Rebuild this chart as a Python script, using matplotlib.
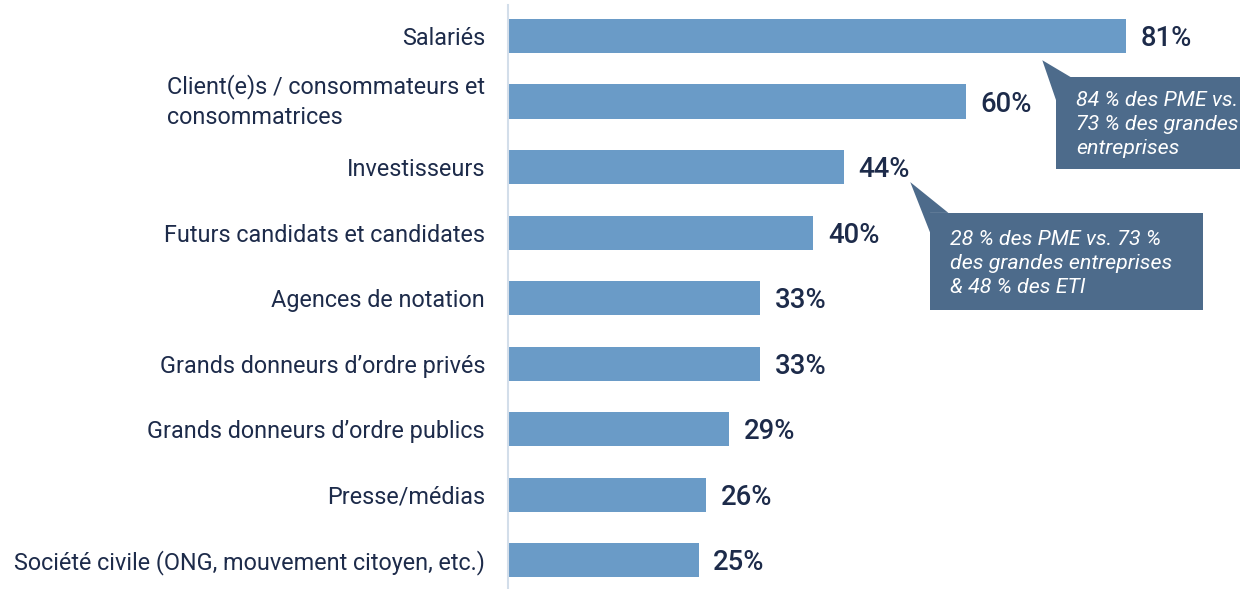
import matplotlib
matplotlib.use("Agg")
import matplotlib.pyplot as plt
from matplotlib.patches import Polygon, Rectangle

categories = [
    "Salariés",
    "Client(e)s / consommateurs et\nconsommatrices",
    "Investisseurs",
    "Futurs candidats et candidates",
    "Agences de notation",
    "Grands donneurs d\u2019ordre privés",
    "Grands donneurs d\u2019ordre publics",
    "Presse/médias",
    "Société civile (ONG, mouvement citoyen, etc.)",
]
values = [81, 60, 44, 40, 33, 33, 29, 26, 25]
value_labels = [f"{v}%" for v in values]

callout1_text = "84 % des PME vs.\n73 % des grandes\nentreprises"
callout2_text = "28 % des PME vs. 73 %\ndes grandes entreprises\n& 48 % des ETI"

BAR = "#6a9bc7"
TXT = "#1d2b4a"
BOX = "#4d6b8b"
AXL = "#d3deea"

plt.rcParams['font.family'] = ['Roboto', 'DejaVu Sans']

fig = plt.figure(figsize=(12.4, 5.89), dpi=100)
ax = fig.add_axes([508/1240, 0, 1 - 508/1240, 1 - 5/589])

ypos = list(range(len(categories)))
ax.barh(ypos, values, height=0.52, color=BAR, zorder=2)
ax.set_ylim(8.44, -0.473)
ax.set_xlim(0, 95.9)

for y, v, lab in zip(ypos, values, value_labels):
    ax.text(v + 1.9, y + 0.04, lab, va='center', ha='left', fontsize=19.8,
            fontweight='medium', color=TXT)

ax.set_yticks(ypos)
ticklabels = ax.set_yticklabels(categories, fontsize=16.8, color=TXT,
                                multialignment='left', linespacing=1.35)
for t in ticklabels:
    if "\n" in t.get_text():
        t.set_verticalalignment('center')
ax.tick_params(axis='y', length=0, pad=16.5)
ax.set_xticks([])
for s in ['top', 'right', 'bottom']:
    ax.spines[s].set_visible(False)
ax.spines['left'].set_color(AXL)
ax.spines['left'].set_linewidth(1.5)

# Callout 1
ax.add_patch(Rectangle((71.8, 0.626), 30, 2.03 - 0.626, facecolor=BOX,
                       edgecolor='none', zorder=3, clip_on=True))
ax.add_patch(Polygon([(70.0, 0.37), (73.7, 0.626), (71.8, 0.626), (71.8, 0.98)],
                     closed=True, facecolor=BOX, edgecolor='none', zorder=3))
ax.text(74.4, 1.35, callout1_text, ha='left', va='center', fontsize=15.4,
        fontstyle='italic', color='white', linespacing=1.35, zorder=4)

# Callout 2
ax.add_patch(Rectangle((55.3, 2.70), 91.0 - 55.3, 4.18 - 2.70, facecolor=BOX,
                       edgecolor='none', zorder=3))
ax.add_patch(Polygon([(52.7, 2.23), (57.7, 2.70), (55.3, 2.70), (55.3, 3.0)],
                     closed=True, facecolor=BOX, edgecolor='none', zorder=3))
ax.text(57.9, 3.47, callout2_text, ha='left', va='center', fontsize=15.4,
        fontstyle='italic', color='white', linespacing=1.35, zorder=4)

fig.savefig("out.png", dpi=100)
